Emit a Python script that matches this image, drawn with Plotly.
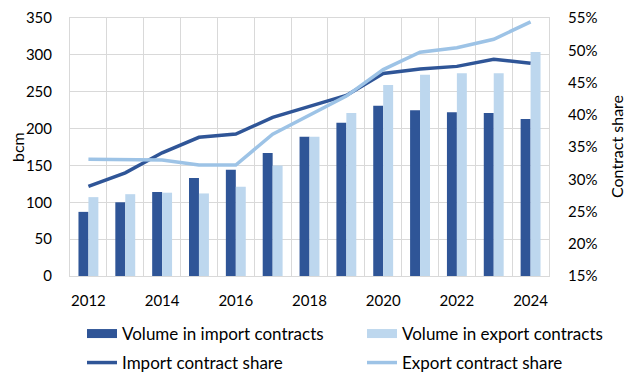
import plotly.graph_objects as go

years = list(range(2012, 2025))
import_volume = [87, 100, 114, 133, 144, 167, 189, 208, 231, 225, 222, 221, 213]
export_volume = [107, 111, 113, 112, 121, 150, 189, 221, 259, 273, 275, 275, 304]
import_share = [28.9, 31.0, 34.1, 36.5, 37.0, 39.6, 41.3, 43.0, 46.4, 47.1, 47.5, 48.6, 48.0]
export_share = [33.1, 33.0, 33.0, 32.2, 32.2, 37.0, 39.9, 42.9, 47.0, 49.7, 50.4, 51.7, 54.4]

DARK = "#2F5597"
LIGHT_BAR = "#BDD7EE"
LIGHT_LINE = "#9DC3E6"
GRID = "#D9D9D9"
FONT = "Lato"

fig = go.Figure()
fig.add_trace(go.Bar(x=years, y=import_volume, name="Volume in import contracts",
                     marker=dict(color=DARK, line=dict(width=0)), showlegend=False))
fig.add_trace(go.Bar(x=years, y=export_volume, name="Volume in export contracts",
                     marker=dict(color=LIGHT_BAR, line=dict(width=0)), showlegend=False))
fig.add_trace(go.Scatter(x=years, y=import_share, name="Import contract share", yaxis="y2",
                         mode="lines", line=dict(color=DARK, width=3.5), legend="legend3"))
fig.add_trace(go.Scatter(x=years, y=export_share, name="Export contract share", yaxis="y2",
                         mode="lines", line=dict(color=LIGHT_LINE, width=3.5), legend="legend4"))
# legend-only swatches for the bar series
fig.add_trace(go.Scatter(x=[None], y=[None], name="Volume in import contracts", mode="lines",
                         line=dict(color=DARK, width=9), legend="legend"))
fig.add_trace(go.Scatter(x=[None], y=[None], name="Volume in export contracts", mode="lines",
                         line=dict(color=LIGHT_BAR, width=9), legend="legend2"))

row1 = (276 - 334) / 258
row2 = (276 - 363) / 258
col1 = (82 - 70) / 479
col2 = (362 - 70) / 479
leg_common = dict(orientation="h", xanchor="left", yanchor="middle", bgcolor="rgba(0,0,0,0)",
                  font=dict(family=FONT, size=17, color="#000000"), itemwidth=30)

fig.update_layout(
    width=635, height=386,
    margin=dict(l=70, r=86, t=18, b=110, autoexpand=False),
    paper_bgcolor="white", plot_bgcolor="white",
    barmode="group", bargap=0.46, bargroupgap=0,
    font=dict(family=FONT, size=15, color="#000000"),
    xaxis=dict(range=[2011.5, 2024.5], tickmode="linear", tick0=2012, dtick=2,
               showgrid=True, gridcolor="rgba(0,0,0,0)", ticks="", ticklabelstandoff=11,
               automargin=False, zeroline=False,
               showline=True, linecolor=GRID, linewidth=1, mirror=True,
               minor=dict(tickmode="linear", tick0=2011.5, dtick=1, showgrid=True,
                          gridcolor=GRID, gridwidth=1),
               tickfont=dict(family=FONT, size=15)),
    yaxis=dict(range=[0, 350], dtick=50, showgrid=True, gridcolor=GRID, gridwidth=1,
               zeroline=False, showline=True, linecolor=GRID, ticks="", ticklabelstandoff=14,
               automargin=False, tickfont=dict(family=FONT, size=15)),
    yaxis2=dict(range=[15, 55], dtick=5, ticksuffix="%", overlaying="y", side="right",
                showgrid=False, zeroline=False, showline=True, linecolor=GRID, ticks="",
                ticklabelstandoff=15, automargin=False, tickfont=dict(family=FONT, size=15)),
    legend=dict(x=col1, y=row1, **leg_common),
    legend2=dict(x=col2, y=row1, **leg_common),
    legend3=dict(x=col1, y=row2, **leg_common),
    legend4=dict(x=col2, y=row2, **leg_common),
    annotations=[
        dict(text="bcm", xref="paper", yref="paper", x=(17 - 70) / 479, y=0.5,
             textangle=-90, showarrow=False, xanchor="center", yanchor="middle",
             font=dict(family=FONT, size=16)),
        dict(text="Contract share", xref="paper", yref="paper", x=(616 - 70) / 479, y=0.5,
             textangle=-90, showarrow=False, xanchor="center", yanchor="middle",
             font=dict(family=FONT, size=16)),
    ],
)

fig.write_html("out.html", config={"displayModeBar": False},
               post_script="document.body.style.margin='0';document.body.style.padding='0';"
                           "document.body.style.overflow='hidden';")
